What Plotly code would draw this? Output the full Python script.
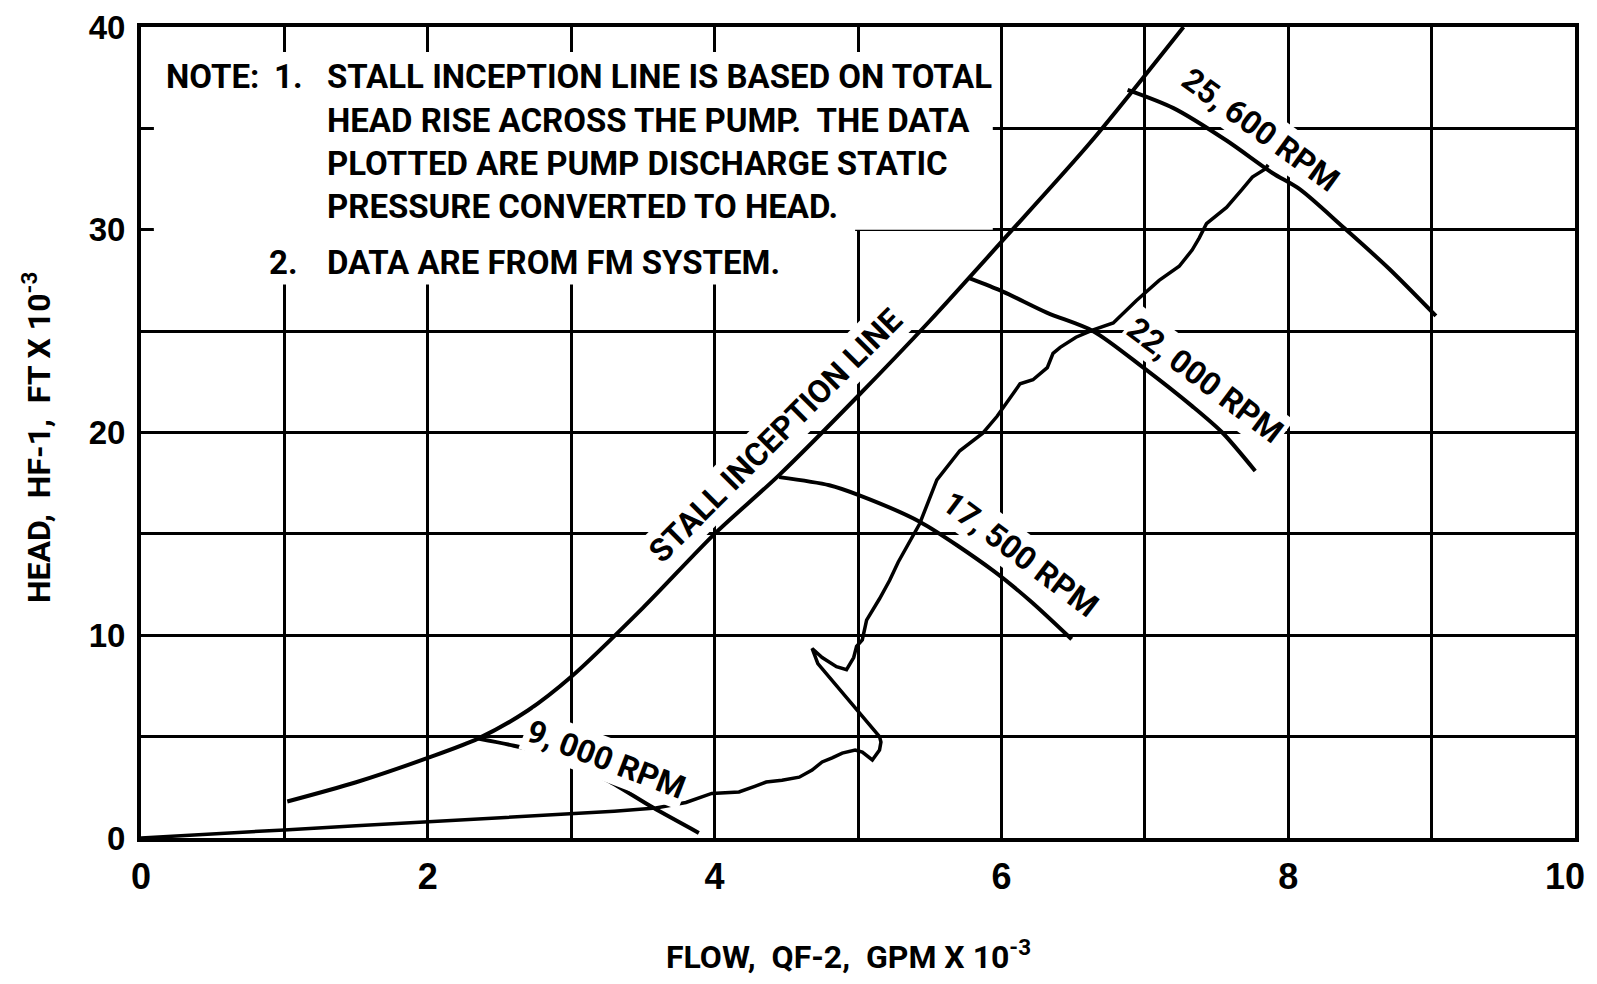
import plotly.graph_objects as go

# ---------------- data (flow in GPM x 1e-3, head in FT x 1e-3) ----------------
stall_x = [1.02, 1.5, 2.0, 2.35, 2.7, 3.0, 3.5, 4.0, 4.45, 5.0, 5.5, 6.0, 6.62, 7.27]
stall_y = [1.8, 2.75, 3.95, 4.9, 6.3, 7.95, 11.35, 15.0, 17.9, 21.8, 25.5, 29.4, 34.3, 40.0]

rpm9000_x = [2.35, 2.6, 2.92, 3.25, 3.57, 3.89]
rpm9000_y = [4.9, 4.55, 3.95, 2.85, 1.5, 0.25]

rpm17500_x = [4.45, 4.8, 5.01, 5.43, 5.94, 6.2, 6.49]
rpm17500_y = [17.8, 17.4, 16.9, 15.6, 13.2, 11.7, 9.8]

rpm22000_x = [5.78, 6.01, 6.32, 6.64, 6.99, 7.33, 7.54, 7.77]
rpm22000_y = [27.6, 26.95, 25.9, 25.0, 23.2, 21.3, 20.0, 18.1]

rpm25600_x = [6.88, 7.2, 7.57, 7.89, 8.08, 8.38, 8.7, 9.03]
rpm25600_y = [36.9, 36.0, 34.4, 32.8, 32.0, 30.15, 28.1, 25.75]

data_x = [0, 0.5, 1.0, 1.5, 2.0, 2.5, 2.92, 3.3, 3.59, 3.8, 3.98, 4.17, 4.28, 4.36, 4.47,
          4.59, 4.68, 4.75, 4.82, 4.89, 4.98, 5.03, 5.10, 5.15, 5.16, 5.15, 4.72, 4.68,
          4.75, 4.85, 4.92, 4.97, 4.99, 5.03, 5.06, 5.15, 5.22, 5.28, 5.43, 5.55, 5.71,
          5.87, 5.97, 6.13, 6.22, 6.32, 6.36, 6.41, 6.52, 6.64, 6.78, 6.94, 7.10, 7.24,
          7.33, 7.38, 7.43, 7.57, 7.68, 7.75, 7.84, 7.86]
data_y = [0, 0.18, 0.4, 0.6, 0.8, 1.0, 1.13, 1.32, 1.48, 1.75, 2.2, 2.27, 2.55, 2.76, 2.85,
          3.0, 3.35, 3.75, 3.95, 4.19, 4.34, 4.24, 3.85, 4.34, 4.73, 5.0, 8.6, 9.35,
          8.9, 8.45, 8.3, 8.9, 9.45, 9.77, 10.75, 11.8, 12.7, 13.6, 15.5, 17.66, 19.1,
          19.97, 20.8, 22.4, 22.6, 23.2, 23.9, 24.2, 24.7, 25.06, 25.4, 26.5, 27.5, 28.2,
          29.0, 29.6, 30.3, 31.1, 32.0, 32.6, 33.0, 33.2]

x_ticks = [0, 2, 4, 6, 8, 10]
x_tick_text = ["0", "2", "4", "6", "8", "10\u00a0\u00a0"]
y_ticks = [0, 10, 20, 30, 40]

note_lines = [
    "STALL INCEPTION LINE IS BASED ON TOTAL",
    "HEAD RISE ACROSS THE PUMP.  THE DATA",
    "PLOTTED ARE PUMP DISCHARGE STATIC",
    "PRESSURE CONVERTED TO HEAD.",
]
note2 = "DATA ARE FROM FM SYSTEM."

curve_labels = [
    ("STALL INCEPTION LINE", 4.42, 19.85, -45),
    ("9, 000 RPM", 3.24, 3.9, 21),
    ("17, 500 RPM", 6.13, 14.0, 37),
    ("22, 000 RPM", 7.42, 22.6, 37),
    ("25, 600 RPM", 7.81, 34.9, 36),
]

FONT = "Roboto, Liberation Sans, sans-serif"

# page is rendered with an 8px body margin: figure origin sits at page (8, 8)
OFF = 8
W, H = 1589, 968
L, T = 141 - OFF, 27 - OFF
R = W - (1575 - OFF)
B = H - (838 - OFF)
PW, PH = W - L - R, H - T - B


def px_to_paper(px, py):
    return (px - OFF - L) / PW, (H - (py - OFF) - B) / PH


fig = go.Figure()
line_style = dict(color="black", width=4)
for xs, ys in [(stall_x, stall_y), (rpm9000_x, rpm9000_y), (rpm17500_x, rpm17500_y),
               (rpm22000_x, rpm22000_y), (rpm25600_x, rpm25600_y)]:
    fig.add_trace(go.Scatter(x=xs, y=ys, mode="lines", line=dict(line_style, shape="spline", smoothing=0.8),
                             showlegend=False, hoverinfo="skip"))
fig.add_trace(go.Scatter(x=data_x, y=data_y, mode="lines", line=dict(color="black", width=3.5),
                         showlegend=False, hoverinfo="skip"))

# white note box covering the grid (above grid, below traces)
fig.add_shape(type="rect", x0=0.09, x1=5.94, y0=30.0, y1=38.77, layer="between",
              fillcolor="white", line_width=0)
fig.add_shape(type="rect", x0=0.09, x1=4.98, y0=27.3, y1=30.1, layer="between",
              fillcolor="white", line_width=0)

ann = []
ann.append(dict(x=0.16, y=37.56, text="NOTE:", xanchor="left", yanchor="middle"))
ann.append(dict(x=0.914, y=37.56, text="1.", xanchor="left", yanchor="middle"))
for t, yy in zip(note_lines, [37.56, 35.40, 33.29, 31.13]):
    ann.append(dict(x=1.284, y=yy, text=t, xanchor="left", yanchor="middle"))
ann.append(dict(x=0.88, y=28.37, text="2.", xanchor="left", yanchor="middle"))
ann.append(dict(x=1.284, y=28.37, text=note2, xanchor="left", yanchor="middle"))
for a in ann:
    a.update(xref="x", yref="y", showarrow=False, font=dict(family=FONT, size=33, color="black", weight="bold"))
for t, xx, yy, ang in curve_labels:
    ann.append(dict(x=xx, y=yy, text=t, xref="x", yref="y", showarrow=False, textangle=ang,
                    bgcolor="white", borderpad=2,
                    font=dict(family=FONT, size=32, color="black", weight="bold")))

xt = px_to_paper(848, 955)
ann.append(dict(x=xt[0], y=xt[1], xref="paper", yref="paper",
                text="FLOW,  QF-2,  GPM X 10<sup>-3</sup>",
                showarrow=False, xanchor="center", yanchor="middle",
                font=dict(family=FONT, size=32, color="black", weight="bold")))
yt = px_to_paper(37, 438)
ann.append(dict(x=yt[0], y=yt[1], xref="paper", yref="paper",
                text="HEAD,  HF-1,  FT X 10<sup>-3</sup>", showarrow=False,
                textangle=-90, xanchor="center", yanchor="middle",
                font=dict(family=FONT, size=32, color="black", weight="bold")))
fig.update_layout(annotations=ann)

TICKFONT = "Liberation Sans, Arial, sans-serif"
fig.update_xaxes(range=[0, 10], tickvals=x_ticks, ticktext=x_tick_text,
                 showline=True, linecolor="black", linewidth=4, mirror=True, zeroline=False,
                 ticks="", ticklabelstandoff=4, automargin=False, ticklabeloverflow="allow",
                 showgrid=True, gridcolor="black", gridwidth=3,
                 minor=dict(dtick=1, tick0=0, showgrid=True, gridcolor="black", gridwidth=3),
                 tickfont=dict(family=TICKFONT, size=36, color="black", weight="bold"))
fig.update_yaxes(range=[0, 40], tickvals=y_ticks, ticktext=[str(v) for v in y_ticks],
                 showline=True, linecolor="black", linewidth=4, mirror=True, zeroline=False,
                 ticks="", ticklabelstandoff=5, automargin=False, ticklabeloverflow="allow",
                 showgrid=True, gridcolor="black", gridwidth=3,
                 minor=dict(dtick=5, tick0=0, showgrid=True, gridcolor="black", gridwidth=3),
                 tickfont=dict(family=TICKFONT, size=33, color="black", weight="bold"))
fig.update_layout(width=W, height=H, margin=dict(l=L, r=R, t=T, b=B, autoexpand=False),
                  paper_bgcolor="white", plot_bgcolor="white", showlegend=False)

fig.write_html("out.html")
